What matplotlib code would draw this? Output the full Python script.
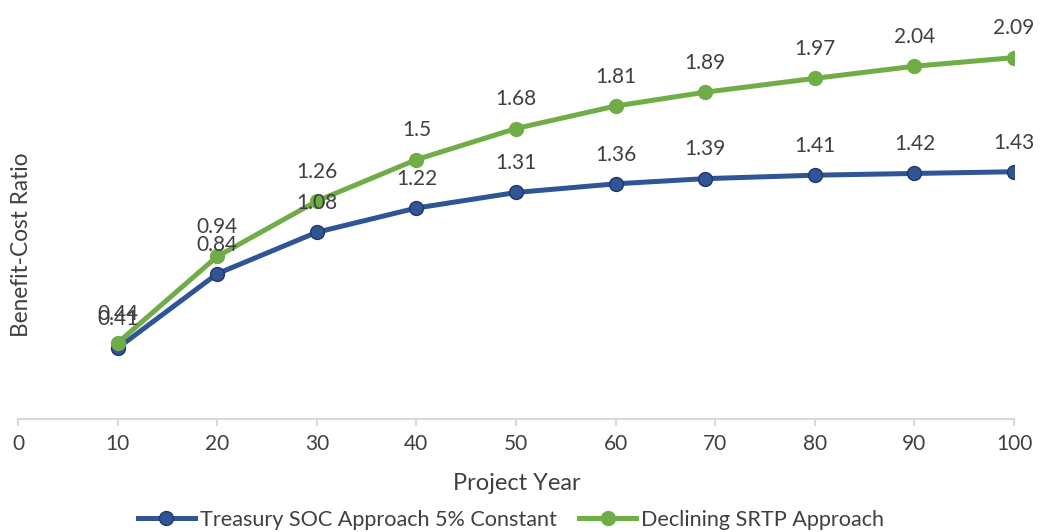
import matplotlib
matplotlib.use("Agg")
import matplotlib.pyplot as plt
from matplotlib.lines import Line2D

# Data
project_year = [10, 20, 30, 40, 50, 60, 69, 80, 90, 100]
treasury_soc = [0.41, 0.84, 1.08, 1.22, 1.31, 1.36, 1.39, 1.41, 1.42, 1.43]
declining_srtp = [0.44, 0.94, 1.26, 1.5, 1.68, 1.81, 1.89, 1.97, 2.04, 2.09]
x_ticks = [0, 10, 20, 30, 40, 50, 60, 70, 80, 90, 100]

blue = "#2F5597"
green = "#70AD47"
text_col = "#404040"

plt.rcParams['font.family'] = ['Lato', 'DejaVu Sans']
plt.rcParams['font.size'] = 15

fig = plt.figure(figsize=(10.43, 5.32), dpi=100)
ax = fig.add_axes([18 / 1043, 113 / 532, 996 / 1043, 415 / 532])

ax.plot(project_year, treasury_soc, color=blue, lw=3.6, marker='o', ms=10,
        mec="#203864", mew=1, label="Treasury SOC Approach 5% Constant", zorder=3)
ax.plot(project_year, declining_srtp, color=green, lw=3.6, marker='o', ms=10,
        mec=green, label="Declining SRTP Approach", zorder=4)

# data labels above points (they overlap at year 10 in the original too)
for xs, ys in [(project_year, treasury_soc), (project_year, declining_srtp)]:
    for x, y in zip(xs, ys):
        ax.annotate(f"{y:g}", (x, y), xytext=(0, 21), textcoords='offset points',
                    ha='center', va='center', color=text_col, fontsize=15, zorder=5)

ax.set_xlim(0, 100)
ax.set_ylim(0, 2.4)
ax.set_xticks(x_ticks)
ax.set_yticks([])
for s in ['top', 'right', 'left']:
    ax.spines[s].set_visible(False)
ax.spines['bottom'].set_color("#D9D9D9")
ax.spines['bottom'].set_linewidth(1.5)
ax.tick_params(axis='x', colors="#D9D9D9", length=5, width=1.5, labelcolor=text_col,
               labelsize=15, pad=6)

fig.text(517 / 1043, 1 - 484 / 532, "Project Year", ha='center', va='center',
         color=text_col, fontsize=17)
fig.text(22 / 1043, 1 - 245 / 532, "Benefit-Cost Ratio", ha='center', va='center',
         rotation=90, color=text_col, fontsize=16.3)

handles = [Line2D([], [], color=blue, lw=3.6, marker='o', ms=10, mec="#203864"),
           Line2D([], [], color=green, lw=3.6, marker='o', ms=10, mec=green)]
fig.legend(handles, ["Treasury SOC Approach 5% Constant", "Declining SRTP Approach"],
           loc='center', bbox_to_anchor=(511 / 1043, 1 - 520 / 532), ncol=2,
           frameon=False, fontsize=15.6, labelcolor=text_col, handlelength=2.6,
           handletextpad=0.23, columnspacing=1.06, borderpad=0)

fig.savefig("out.png", dpi=100)
